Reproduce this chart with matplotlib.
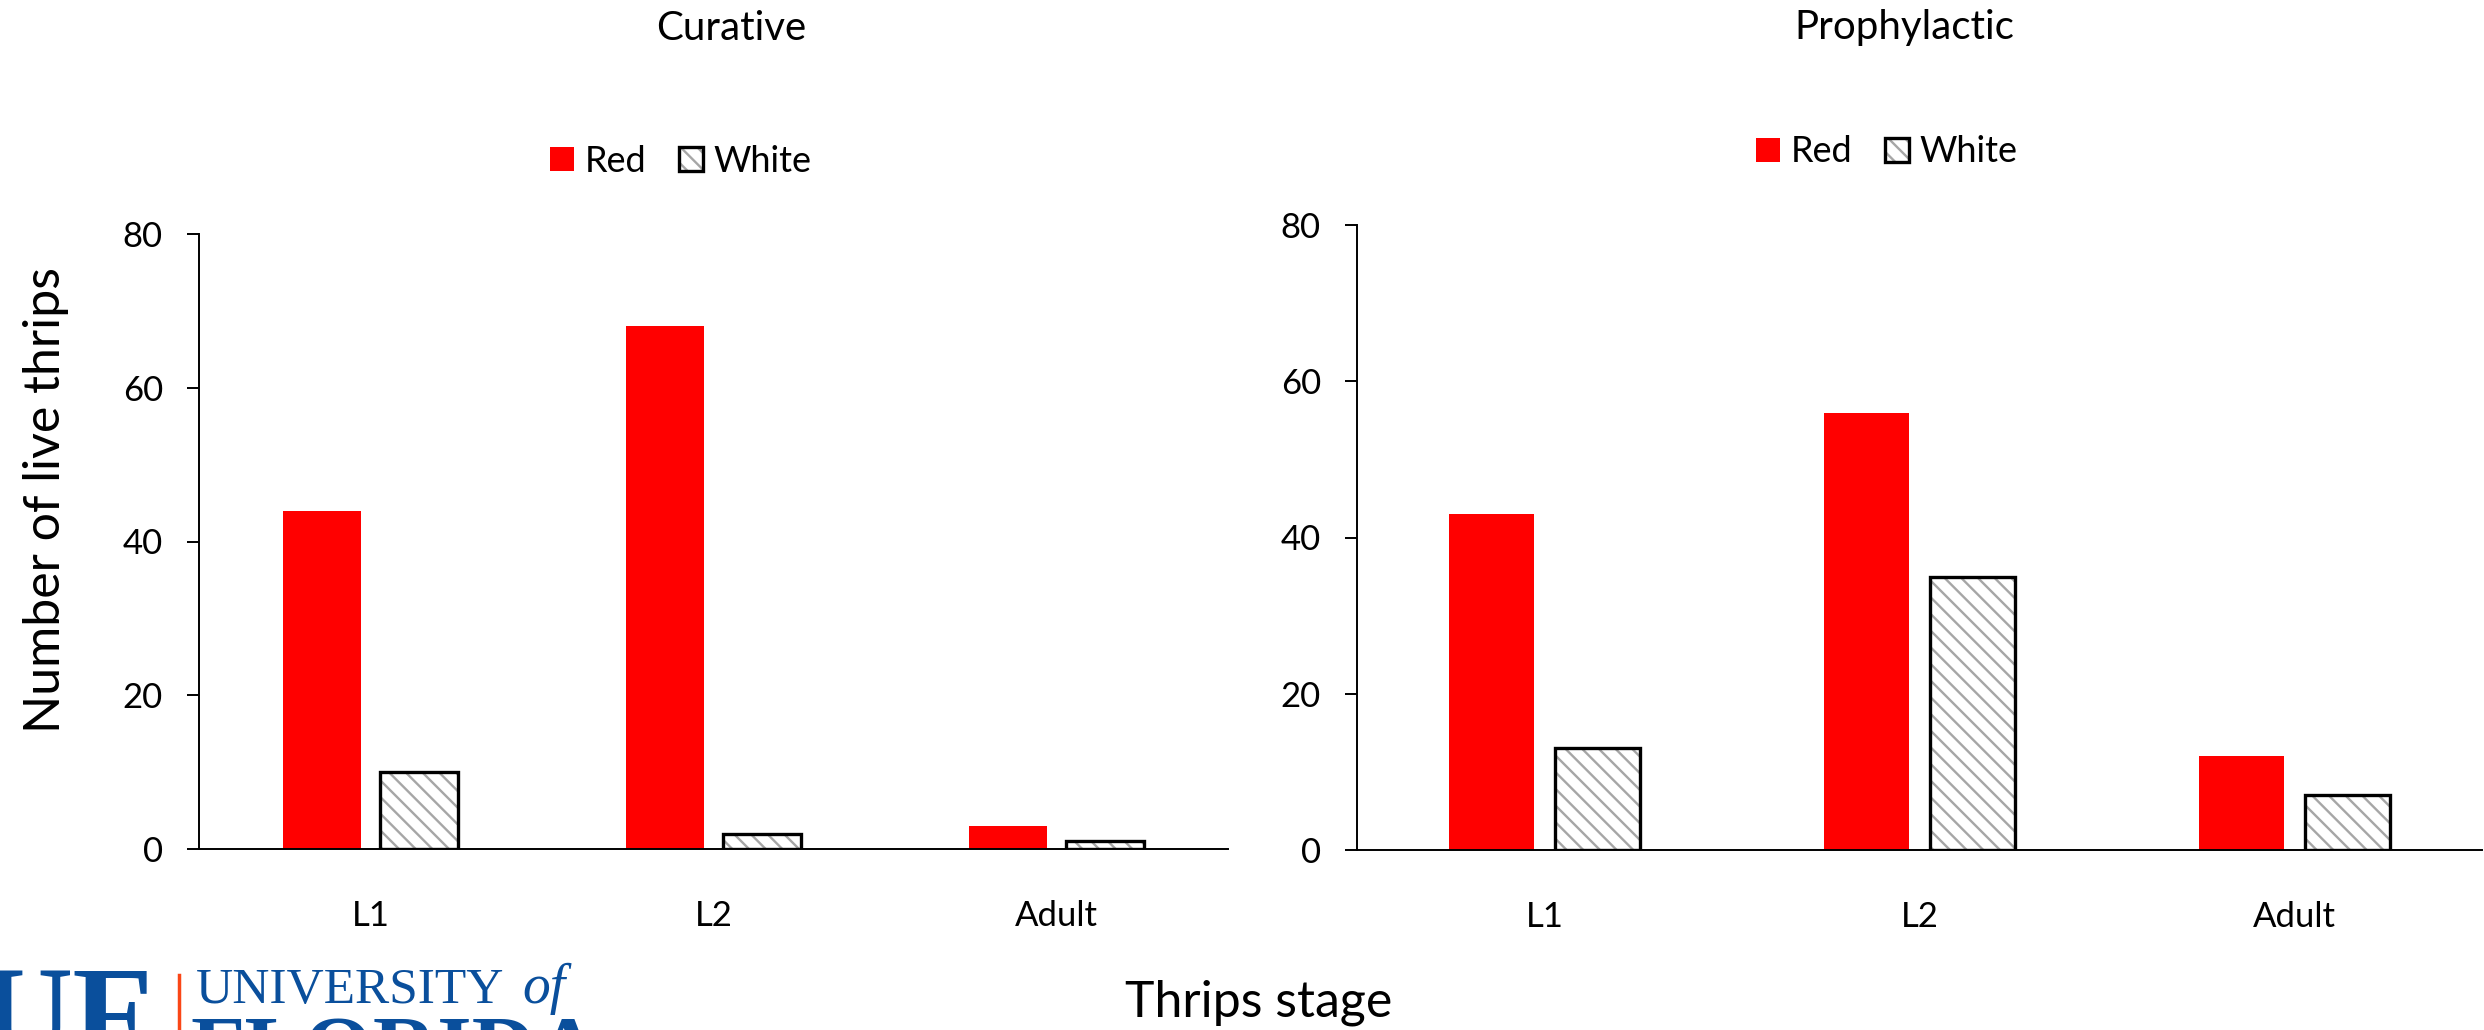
import matplotlib.pyplot as plt
import numpy as np

plt.rcParams['font.family'] = ['Lato', 'DejaVu Sans']
plt.rcParams['hatch.linewidth'] = 1.7

stages = ["L1", "L2", "Adult"]
series = ["Red", "White"]
curative_red = [44, 68, 3]
curative_white = [10, 2, 1]
prophylactic_red = [43, 56, 12]
prophylactic_white = [13, 35, 7]

RED = "#FF0000"
HATCH_GREY = "#A6A6A6"
UF_BLUE = "#0A4F9C"
UF_ORANGE = "#FA4616"

W, H = 2484, 1030


def fx(px):
    return px / W


def fy(py):
    return 1 - py / H


def plot_panel(ax, red, white, legend_xy):
    x = np.arange(len(stages))
    w = 0.226
    off = 0.142
    b_red = ax.bar(x - off, red, w, color=RED, linewidth=0)
    b_hatch = ax.bar(x + off, white, w, color="white", edgecolor=HATCH_GREY,
                     hatch="\\\\", linewidth=0)
    b_edge = ax.bar(x + off, white, w, fill=False, edgecolor="black",
                    linewidth=2.4)

    ax.set_xlim(-0.5, 2.5)
    ax.set_ylim(0, 80)
    ax.set_yticks([0, 20, 40, 60, 80])
    ax.set_xticks(x)
    ax.set_xticklabels(stages)
    for s in ["top", "right"]:
        ax.spines[s].set_visible(False)
    for s in ["left", "bottom"]:
        ax.spines[s].set_linewidth(1.4)
    ax.tick_params(axis="y", length=9, width=1.4, pad=17, labelsize=25)
    ax.tick_params(axis="x", length=0, pad=37, labelsize=25)

    ax.legend([b_red, (b_hatch, b_edge)], series, loc="center left",
              bbox_to_anchor=legend_xy, bbox_transform=ax.figure.transFigure,
              ncol=2, frameon=False, fontsize=26, borderpad=0,
              borderaxespad=0, handlelength=0.66, handleheight=0.66,
              handletextpad=0.3, columnspacing=0.9)


fig = plt.figure(figsize=(W / 100, H / 100), dpi=100)

ax1 = fig.add_axes([fx(199), fy(849), fx(1228) - fx(199), fy(234) - fy(849)])
ax2 = fig.add_axes([fx(1357), fy(850), fx(2482) - fx(1357), fy(225) - fy(850)])

plot_panel(ax1, curative_red, curative_white, (fx(550), fy(161)))
plot_panel(ax2, prophylactic_red, prophylactic_white, (fx(1756), fy(152)))

fig.text(fx(731), fy(28), "Curative", fontsize=29, ha="center", va="center")
fig.text(fx(1904), fy(28), "Prophylactic", fontsize=29, ha="center", va="center")
fig.text(fx(46), fy(500), "Number of live thrips", fontsize=36,
         rotation=90, ha="center", va="center")
fig.text(fx(1259), fy(1003), "Thrips stage", fontsize=36,
         ha="center", va="center")

# university wordmark, running off the bottom edge
fig.text(fx(-22), fy(966), "UF", fontsize=95, fontweight="bold",
         family="Liberation Serif", color=UF_BLUE, ha="left", va="top")
fig.add_artist(plt.Line2D([fx(179), fx(179)], [fy(975), fy(1030)],
                          color=UF_ORANGE, linewidth=2.5))
fig.text(fx(196), fy(1003), "UNIVERSITY", fontsize=37, family="Liberation Serif",
         color=UF_BLUE, ha="left", va="baseline")
fig.text(fx(522), fy(1003), "of", fontsize=40, family="Liberation Serif",
         style="italic", color=UF_BLUE, ha="left", va="baseline")
fig.text(fx(190), fy(1015), "FLORIDA", fontsize=64, fontweight="bold",
         family="Liberation Serif", color=UF_BLUE, ha="left", va="top")

fig.savefig("out.png", dpi=100)
